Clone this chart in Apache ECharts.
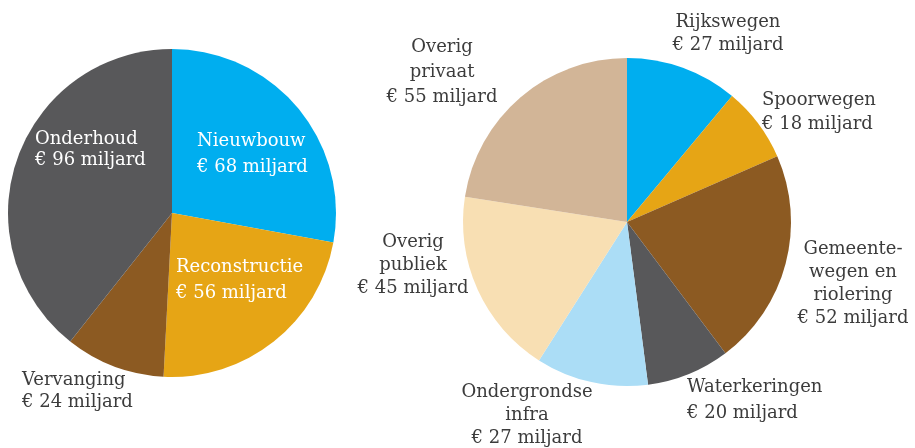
<!DOCTYPE html>
<html>
<head>
<meta charset="utf-8">
<script src="https://cdn.jsdelivr.net/npm/echarts@6/dist/echarts.min.js"></script>
<style>
  html, body { margin: 0; padding: 0; background: #fff; }
  #chart { width: 915px; height: 448px; }
</style>
</head>
<body>
<div id="chart"></div>
<script>
// left pie: type of work
const workNames = ['Nieuwbouw', 'Reconstructie', 'Vervanging', 'Onderhoud']
const workValues = [68, 56, 24, 96]
const workColors = ['#00aeef', '#e6a515', '#8c5a22', '#58585a']

// right pie: asset owners
const ownerNames = ['Rijkswegen', 'Spoorwegen', 'Gemeente-\nwegen en\nriolering', 'Waterkeringen',
  'Ondergrondse\ninfra', 'Overig\npubliek', 'Overig\nprivaat']
const ownerValues = [27, 18, 52, 20, 27, 45, 55]
const ownerColors = ['#00aeef', '#e6a515', '#8c5a22', '#58585a', '#abddf6', '#f8dfb3', '#d2b597']

// label anchor points [x, y, align, lineHeight] (block centred vertically on y)
const workLabelPos = [
  [197, 154, 'left', 26],
  [176, 280, 'left', 26],
  [22, 391, 'left', 22],
  [35, 150, 'left', 21]
]
const ownerLabelPos = [
  [728, 34, 'center', 23],
  [762, 112, 'left', 24],
  [853, 284, 'center', 23],
  [687, 400, 'left', 26],
  [527, 415, 'center', 23],
  [413, 265, 'center', 23],
  [442, 72, 'center', 25]
]

const chart = echarts.init(document.getElementById('chart'))

function toData (names, values, colors, pos) {
  return names.map((n, i) => ({
    name: n,
    value: values[i],
    itemStyle: { color: colors[i] },
    label: { lineHeight: pos[i][3] }
  }))
}

function layoutFrom (pos) {
  return function (params) {
    const p = pos[params.dataIndex]
    return { x: p[0], y: p[1], align: p[2], verticalAlign: 'middle' }
  }
}

const labelFont = {
  fontFamily: 'DejaVu Serif',
  fontSize: 18,
  lineHeight: 23,
  overflow: 'none',
  formatter: '{b}\n€ {c} miljard'
}

chart.setOption({
  animation: false,
  series: [
    {
      type: 'pie',
      center: [172, 213],
      radius: 164,
      startAngle: 90,
      clockwise: true,
      silent: true,
      label: Object.assign({ show: true, position: 'inside', color: '#fff' }, labelFont),
      labelLine: { show: false },
      labelLayout: layoutFrom(workLabelPos),
      data: toData(workNames, workValues, workColors, workLabelPos).map((d, i) => {
        if (i === 2) d.label.color = '#3c3c3c'
        return d
      })
    },
    {
      type: 'pie',
      center: [627, 222],
      radius: 164,
      startAngle: 90,
      clockwise: true,
      silent: true,
      label: Object.assign({
        show: true,
        position: 'outside',
        alignTo: 'none',
        color: '#3c3c3c',
        textAlign: 'center'
      }, labelFont),
      labelLine: { show: false },
      labelLayout: layoutFrom(ownerLabelPos),
      data: toData(ownerNames, ownerValues, ownerColors, ownerLabelPos)
    }
  ]
})

window.addEventListener('resize', function () {
  chart.resize()
})
</script>
</body>
</html>
